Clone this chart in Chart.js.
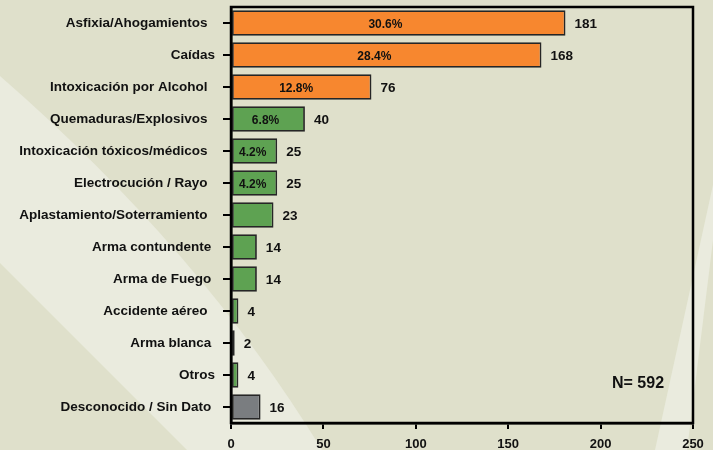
<!DOCTYPE html>
<html>
<head>
<meta charset="utf-8">
<script src="https://cdn.jsdelivr.net/npm/chart.js@4.4.1/dist/chart.umd.min.js"></script>
<style>
  html, body { margin: 0; padding: 0; background: #dfe0cb; }
  #wrap { width: 713px; height: 450px; position: relative; }
</style>
</head>
<body>
<div id="wrap"><canvas id="chart" width="713" height="450"></canvas></div>
<script>
// trailing spaces kept as in the original labels
const categories = [
  "Asfixia/Ahogamientos  ",
  "Caídas",
  "Intoxicación por Alcohol  ",
  "Quemaduras/Explosivos  ",
  "Intoxicación tóxicos/médicos  ",
  "Electrocución / Rayo  ",
  "Aplastamiento/Soterramiento  ",
  "Arma contundente ",
  "Arma de Fuego ",
  "Accidente aéreo  ",
  "Arma blanca ",
  "Otros",
  "Desconocido / Sin Dato "
];
const counts = [181, 168, 76, 40, 25, 25, 23, 14, 14, 4, 2, 4, 16];
const percents = ["30.6%", "28.4%", "12.8%", "6.8%", "4.2%", "4.2%", null, null, null, null, null, null, null];
const groups = ["top", "top", "top", "mid", "mid", "mid", "mid", "mid", "mid", "mid", "mid", "mid", "unknown"];
const xTicks = [0, 50, 100, 150, 200, 250];
const totalLabel = "N= 592";

const groupColors = { top: "#f7872f", mid: "#5ea252", unknown: "#7a7d80" };
const fontFamily = "'Liberation Sans', Arial, sans-serif";

const backgroundPlugin = {
  id: "background",
  beforeDraw(chart) {
    const ctx = chart.ctx;
    ctx.save();
    ctx.fillStyle = "#dfe0cb";
    ctx.fillRect(0, 0, chart.width, chart.height);
    ctx.fillStyle = "#eaebde";
    // light swoosh lower-left
    ctx.beginPath();
    ctx.moveTo(0, 76);
    ctx.quadraticCurveTo(200, 250, 322, 450);
    ctx.lineTo(187, 450);
    ctx.lineTo(0, 263);
    ctx.closePath();
    ctx.fill();
    // light stripe right
    ctx.beginPath();
    ctx.moveTo(713, 185);
    ctx.lineTo(713, 240);
    ctx.lineTo(687, 450);
    ctx.lineTo(655, 450);
    ctx.closePath();
    ctx.fill();
    ctx.restore();
  }
};

const labelsPlugin = {
  id: "barLabels",
  afterDatasetsDraw(chart) {
    const ctx = chart.ctx;
    const meta = chart.getDatasetMeta(0);
    const area = chart.chartArea;
    ctx.save();
    ctx.fillStyle = "#111";
    ctx.textBaseline = "middle";
    meta.data.forEach((bar, i) => {
      ctx.font = "bold 13.5px " + fontFamily;
      ctx.textAlign = "left";
      ctx.fillText(String(counts[i]), bar.x + 9, bar.y + 1);
      if (percents[i]) {
        ctx.font = "bold 12px " + fontFamily;
        ctx.textAlign = "center";
        const cx = bar.base + (bar.x - bar.base) * 0.46;
        ctx.fillText(percents[i], cx, bar.y + 2);
      }
    });
    // plot frame
    ctx.strokeStyle = "#000";
    ctx.lineWidth = 2.5;
    ctx.strokeRect(area.left, area.top, area.right - area.left, area.bottom - area.top);
    // total
    ctx.font = "bold 16px " + fontFamily;
    ctx.textAlign = "left";
    ctx.fillText(totalLabel, 612, 384);
    ctx.restore();
  }
};

new Chart(document.getElementById("chart").getContext("2d"), {
  type: "bar",
  data: {
    labels: categories,
    datasets: [{
      data: counts,
      backgroundColor: groups.map((g) => groupColors[g]),
      borderColor: "#262626",
      borderWidth: 1.8,
      borderSkipped: false,
      barPercentage: 0.8,
      categoryPercentage: 1
    }]
  },
  options: {
    indexAxis: "y",
    responsive: false,
    animation: false,
    layout: { padding: { top: 7, right: 20, left: 0, bottom: 0 } },
    plugins: {
      legend: { display: false },
      tooltip: { enabled: false }
    },
    scales: {
      x: {
        min: 0,
        max: 250,
        afterFit(scale) { scale.height = 27; scale.paddingLeft = 0; scale.paddingRight = 0; },
        afterBuildTicks(scale) { scale.ticks = xTicks.map((v) => ({ value: v })); },
        grid: { display: true, drawOnChartArea: false, tickLength: 6, color: "#000", lineWidth: 2 },
        border: { display: true, color: "#000", width: 2.5 },
        ticks: { padding: 8, color: "#111", font: { family: fontFamily, size: 13, weight: "bold" } }
      },
      y: {
        afterFit(scale) { scale.width = 231; scale.paddingTop = 0; scale.paddingBottom = 0; },
        grid: { display: true, drawOnChartArea: false, offset: false, tickLength: 8, color: "#000", lineWidth: 2 },
        border: { display: true, color: "#000", width: 2.5 },
        ticks: { padding: 8, color: "#111", font: { family: fontFamily, size: 13.5, weight: "bold" } }
      }
    }
  },
  plugins: [backgroundPlugin, labelsPlugin]
});
</script>
</body>
</html>
